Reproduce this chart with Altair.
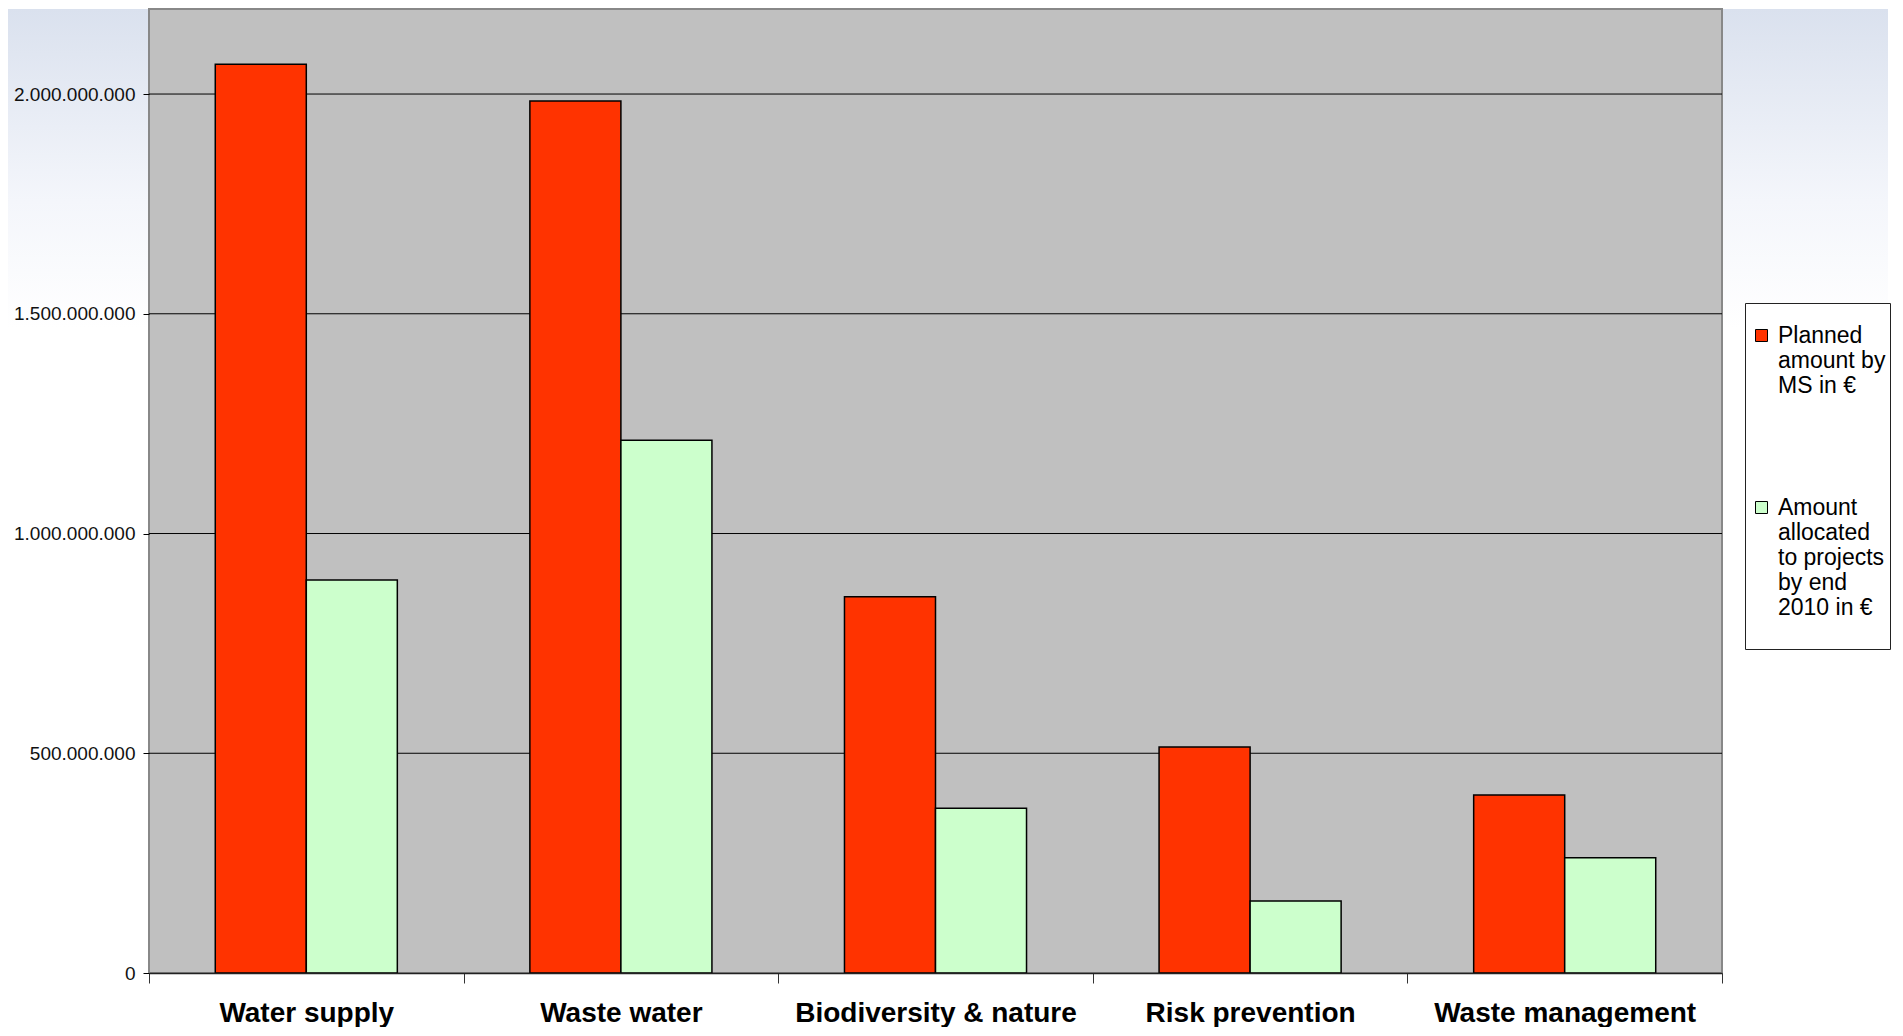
import altair as alt
import pandas as pd

# ---- data ----
categories = ["Water supply", "Waste water", "Biodiversity & nature", "Risk prevention", "Waste management"]
series = ["Planned amount by MS in €", "Amount allocated to projects by end 2010 in €"]
series_lines = [["Planned", "amount by", "MS in €"],
                ["Amount", "allocated", "to projects", "by end", "2010 in €", ""]]
planned = [2068000000, 1984000000, 856000000, 514000000, 405000000]
allocated = [894000000, 1212000000, 375000000, 164000000, 262000000]
y_ticks = [0, 500000000, 1000000000, 1500000000, 2000000000]
colors = ["#ff3300", "#ccffcc"]

W, H = 1573, 964
YMAX = 2193500000
FONT = "Liberation Sans"

rows = []
for c, p, a in zip(categories, planned, allocated):
    rows.append({"category": c, "series": series[0], "value": p})
    rows.append({"category": c, "series": series[1], "value": a})
df = pd.DataFrame(rows)
grid_df = pd.DataFrame({"value": y_ticks[1:]})
one = pd.DataFrame({"k": [0]})


def arr(lines):
    return "[" + ",".join("'" + s + "'" for s in lines) + "]"


legend_expr = "datum.label == '%s' ? %s : %s" % (series[0], arr(series_lines[0]), arr(series_lines[1]))

yscale = alt.Scale(domain=[0, YMAX], nice=False, zero=True)
yaxis = alt.Axis(
    title=None, values=y_ticks, grid=False, domain=False,
    labelExpr="replace(format(datum.value, ','), /,/g, '.')",
    labelFont=FONT, labelFontSize=19, labelColor="#111111",
    tickSize=6, tickColor="black", tickWidth=1, labelPadding=8, zindex=1,
)

background = alt.Chart(one).mark_rect(
    fill=alt.Gradient(
        gradient="linear",
        stops=[alt.GradientStop(color="#dae1ee", offset=0),
               alt.GradientStop(color="#f4f6fb", offset=0.6),
               alt.GradientStop(color="#ffffff", offset=1)],
        x1=0, x2=0, y1=0, y2=1,
    )
).encode(x=alt.value(-141), x2=alt.value(W + 166), y=alt.value(0), y2=alt.value(320))

plot_bg = alt.Chart(one).mark_rect(fill="#c0c0c0", stroke="#888888", strokeWidth=2).encode(
    x=alt.value(0), x2=alt.value(W), y=alt.value(0), y2=alt.value(H)
)

grid = alt.Chart(grid_df).mark_rule(color="#000000", strokeWidth=1).encode(
    y=alt.Y("value:Q", scale=yscale, axis=yaxis)
)

bars = alt.Chart(df).mark_bar(stroke="black", strokeWidth=1.5).encode(
    x=alt.X(
        "category:N", sort=categories,
        scale=alt.Scale(paddingInner=0, paddingOuter=0),
        axis=alt.Axis(
            title=None, labelAngle=0, labelFont=FONT, labelFontSize=28, labelFontWeight="bold",
            labelColor="black", tickBand="extent", tickSize=10, tickColor="#333333", tickWidth=1,
            domainColor="#222222", domainWidth=1.5, labelPadding=16, zindex=1, grid=False, labelLimit=400,
        ),
    ),
    xOffset=alt.XOffset("series:N", sort=series, scale=alt.Scale(paddingOuter=0.728, paddingInner=0)),
    y=alt.Y("value:Q", scale=yscale, axis=yaxis),
    color=alt.Color(
        "series:N", sort=series,
        scale=alt.Scale(domain=series, range=colors),
        legend=alt.Legend(
            orient="none", legendX=1596, legendY=294,
            title=" ", titleFontSize=5, titlePadding=12,
            padding=4, fillColor="white", strokeColor="#222222",
            labelExpr=legend_expr, labelFont=FONT, labelFontSize=23, labelColor="black",
            labelBaseline="middle", labelOffset=5, labelLimit=300,
            symbolType="square", symbolSize=144, symbolStrokeColor="black", symbolStrokeWidth=1,
            symbolOpacity=1, symbolOffset=1, rowPadding=98,
        ),
    ),
)

chart = alt.layer(background, plot_bg, grid, bars).properties(
    width=W, height=H,
    padding={"top": 0, "left": 0, "right": 0, "bottom": 0},
    background="white",
).configure_view(stroke=None)

chart.save("out.html", embed_options={"renderer": "svg", "actions": False})
